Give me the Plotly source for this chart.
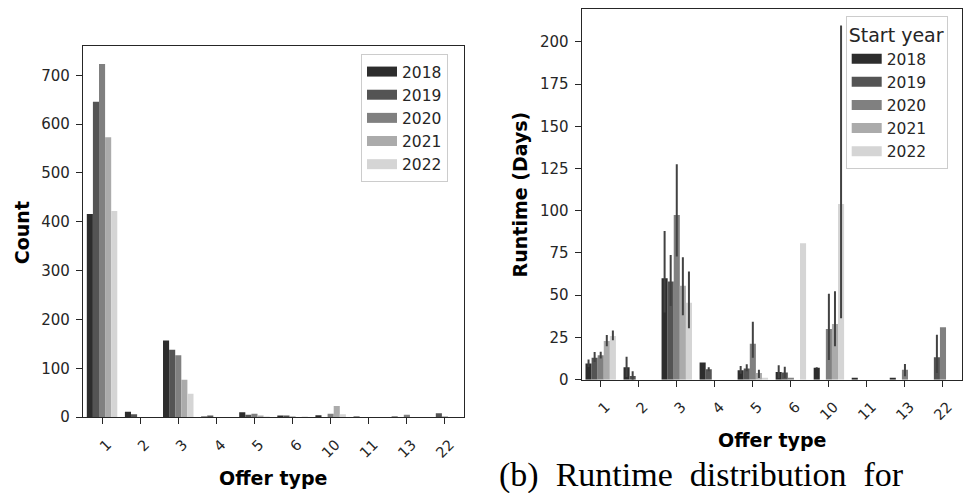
import plotly.graph_objects as go

offer_types = ["1", "2", "3", "4", "5", "6", "10", "11", "13", "22"]
years = ["2018", "2019", "2020", "2021", "2022"]
colors = ["#2d2d2d", "#545454", "#808080", "#ababab", "#d5d5d5"]

# Left panel: counts per offer type and start year
count_2018 = [416, 11, 157, 1, 10, 3, 4, 1, 1, 0]
count_2019 = [646, 6, 138, 3, 5, 2, 0, 0, 0, 8]
count_2020 = [723, 0, 127, 0, 7, 1, 7, 0, 5, 1]
count_2021 = [573, 0, 77, 0, 3, 0, 23, 0, 0, 0]
count_2022 = [422, 0, 48, 0, 1, 1, 6, 0, 0, 0]
counts = [count_2018, count_2019, count_2020, count_2021, count_2022]

# Right panel: mean runtime (days) with confidence interval bounds
rt_2018 = [9.5, 7.4, 60.1, 10.1, 5.6, 4.5, 7.0, 0.8, 0.7, None]
rt_2019 = [13.0, 2.2, 58.1, 6.2, 6.6, 4.2, None, None, None, 13.3]
rt_2020 = [14.5, None, 97.5, None, 21.3, 1.0, 30.0, None, 5.8, 31.0]
rt_2021 = [22.9, None, 55.6, None, 3.9, None, 33.0, None, None, None]
rt_2022 = [25.8, None, 45.5, None, 1.0, 80.8, 104.0, None, None, None]
runtimes = [rt_2018, rt_2019, rt_2020, rt_2021, rt_2022]

hi_2018 = [12.0, 13.6, 88.0, None, 8.1, 8.5, 7.3, None, None, None]
lo_2018 = [7.5, 1.5, 39.7, None, 3.5, 1.0, 6.7, None, None, None]
hi_2019 = [16.3, 5.0, 73.8, 7.4, 9.1, 7.6, None, None, None, 26.6]
lo_2019 = [10.5, 0.0, 43.6, 5.0, 5.0, 1.0, None, None, None, 3.9]
hi_2020 = [16.5, None, 127.5, None, 34.3, None, 50.8, None, 9.3, None]
lo_2020 = [12.5, None, 73.0, None, 13.0, None, 11.6, None, 2.0, None]
hi_2021 = [26.4, None, 72.5, None, 5.8, None, 52.3, None, None, None]
lo_2021 = [19.8, None, 38.2, None, 1.0, None, 19.8, None, None, None]
hi_2022 = [29.1, None, 64.1, None, None, None, 209.7, None, None, None]
lo_2022 = [23.3, None, 30.4, None, None, None, 36.3, None, None, None]
his = [hi_2018, hi_2019, hi_2020, hi_2021, hi_2022]
los = [lo_2018, lo_2019, lo_2020, lo_2021, lo_2022]

W, H = 975, 493
FONT = "DejaVu Sans"
AX = "#262626"

fig = go.Figure()

for i, y in enumerate(years):
    fig.add_trace(go.Bar(
        x=offer_types, y=counts[i], name=y, marker=dict(color=colors[i], line=dict(width=0)),
        xaxis="x", yaxis="y", showlegend=False,
    ))

for i, y in enumerate(years):
    plus, minus = [], []
    for m, h, l in zip(runtimes[i], his[i], los[i]):
        if m is None or h is None:
            plus.append(0)
            minus.append(0)
        else:
            plus.append(h - m)
            minus.append(m - l)
    fig.add_trace(go.Bar(
        x=offer_types, y=runtimes[i], name=y, marker=dict(color=colors[i], line=dict(width=0)),
        error_y=dict(type="data", symmetric=False, array=plus, arrayminus=minus,
                     color="#424242", thickness=2, width=0),
        xaxis="x2", yaxis="y2", showlegend=False,
    ))

# legend handles (wide rectangular patches like matplotlib)
for leg, ax in (("legend", ("x", "y")), ("legend2", ("x2", "y2"))):
    for i, y in enumerate(years):
        fig.add_trace(go.Scatter(
            x=[None], y=[None], mode="lines", name=y,
            line=dict(color=colors[i], width=10),
            xaxis=ax[0], yaxis=ax[1], legend=leg, legendgroup=leg + y, showlegend=True,
            hoverinfo="skip",
        ))

def px_x(p):
    return p / W

def px_y(p):
    return 1 - p / H

axis_common = dict(
    showline=True, linecolor=AX, linewidth=1.3, mirror=True,
    ticks="outside", ticklen=6, tickwidth=1.3, tickcolor=AX,
    showgrid=False, zeroline=False,
)
xtick = dict(tickfont=dict(family=FONT, size=14.5, color="#262626"),
             tickangle=-45, ticklabelshift=5, ticklabelstandoff=6)
ytick = dict(tickfont=dict(family=FONT, size=15, color="#262626"), ticklabelstandoff=3)

fig.update_layout(
    width=W, height=H,
    margin=dict(l=0, r=0, t=0, b=0),
    paper_bgcolor="white", plot_bgcolor="white",
    barmode="group", bargap=0.2, bargroupgap=0,
    font=dict(family=FONT, color="#262626"),
    xaxis=dict(domain=[px_x(83), px_x(464)], anchor="y", type="category",
               range=[-0.5, 9.5], **xtick, **axis_common),
    yaxis=dict(domain=[px_y(425), px_y(47.3)], anchor="x", range=[0, 759],
               tickvals=[0, 100, 200, 300, 400, 500, 600, 700], **ytick, **axis_common),
    xaxis2=dict(domain=[px_x(581.7), px_x(962)], anchor="y2", type="category",
                range=[-0.5, 9.5], **xtick, **axis_common),
    yaxis2=dict(domain=[px_y(386.7), px_y(9)], anchor="x2", range=[0, 219.6],
                tickvals=[0, 25, 50, 75, 100, 125, 150, 175, 200], **ytick, **axis_common),
    legend=dict(x=px_x(361), y=px_y(55), xanchor="left", yanchor="top",
                bordercolor="#cccccc", borderwidth=1, bgcolor="rgba(255,255,255,0.8)",
                font=dict(family=FONT, size=15.5, color="#262626"),
                tracegroupgap=0),
    legend2=dict(x=px_x(845.7), y=px_y(16.7), xanchor="left", yanchor="top",
                 bordercolor="#cccccc", borderwidth=1, bgcolor="rgba(255,255,255,0.8)",
                 font=dict(family=FONT, size=15.5, color="#262626"),
                 title=dict(text="Start year", font=dict(family=FONT, size=19, color="#262626")),
                 tracegroupgap=0),
    annotations=[
        dict(text="<b>Offer type</b>", x=px_x(273.3), y=px_y(487), xref="paper", yref="paper",
             showarrow=False, font=dict(family=FONT, size=19, color="black"),
             xanchor="center", yanchor="middle"),
        dict(text="<b>Count</b>", x=px_x(22), y=px_y(237.5), xref="paper", yref="paper",
             showarrow=False, textangle=-90, font=dict(family=FONT, size=19, color="black"),
             xanchor="center", yanchor="middle"),
        dict(text="<b>Offer type</b>", x=px_x(771.7), y=px_y(448), xref="paper", yref="paper",
             showarrow=False, font=dict(family=FONT, size=19, color="black"),
             xanchor="center", yanchor="middle"),
        dict(text="<b>Runtime (Days)</b>", x=px_x(520), y=px_y(198), xref="paper", yref="paper",
             showarrow=False, textangle=-90, font=dict(family=FONT, size=19, color="black"),
             xanchor="center", yanchor="middle"),
        dict(text="(b)  Runtime  distribution  for", x=px_x(497), y=px_y(462),
             xref="paper", yref="paper", showarrow=False, xanchor="left", yanchor="top",
             font=dict(family="Liberation Serif", size=34, color="black")),
    ],
)

fig.write_html("out.html")
